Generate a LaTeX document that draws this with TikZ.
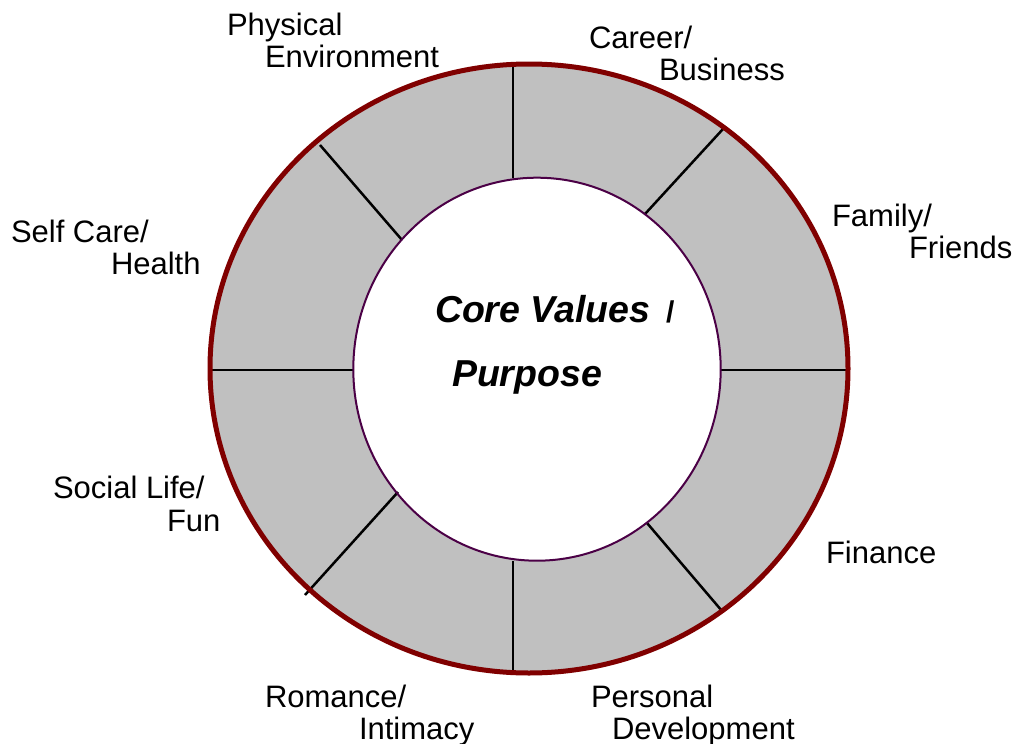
\documentclass[tikz,border=0pt]{standalone}
\usepackage{fontspec}
\setmainfont{Liberation Sans}
\definecolor{ringred}{RGB}{128,0,0}
\definecolor{ringpurple}{RGB}{75,0,70}
\definecolor{ringgray}{RGB}{192,192,192}
\tikzset{
  lbl/.style={anchor=base west, inner sep=0pt, outer sep=0pt, font=\fontsize{31}{35}\selectfont},
  core/.style={anchor=base west, inner sep=0pt, outer sep=0pt, font=\fontsize{37.5}{42}\selectfont\bfseries\itshape},
  divider/.style={draw=black, line width=2.5pt},
}
\begin{document}
\begin{tikzpicture}[x=1pt,y=-1pt]
\useasboundingbox (0,0) rectangle (1018,744);
% ring
\fill[ringgray] (529,368.5) ellipse [x radius=319, y radius=304.5];
\fill[white] (537,369.2) ellipse [x radius=183.7, y radius=191.5];
% divider end points
\coordinate (t1) at (513,65);   \coordinate (t2) at (513,178);
\coordinate (b1) at (513,561);  \coordinate (b2) at (513,673);
\coordinate (l1) at (210,370);  \coordinate (l2) at (353,370);
\coordinate (r1) at (721,370);  \coordinate (r2) at (848,370);
\coordinate (tr1) at (723,129); \coordinate (tr2) at (645,214);
\coordinate (br1) at (722,611); \coordinate (br2) at (647,523);
\coordinate (tl1) at (320,145); \coordinate (tl2) at (402,240);
\coordinate (bl1) at (305,595); \coordinate (bl2) at (398,492);
\draw[divider] (t1) -- (t2);
\draw[divider] (b1) -- (b2);
\draw[divider] (l1) -- (l2);
\draw[divider] (r1) -- (r2);
\draw[divider] (tr1) -- (tr2);
\draw[divider] (br1) -- (br2);
\draw[divider] (tl1) -- (tl2);
\draw[divider] (bl1) -- (bl2);
% outlines
\draw[ringred, line width=5pt] (529,368.5) ellipse [x radius=319, y radius=304.5];
\draw[ringpurple, line width=2pt] (537,369.2) ellipse [x radius=183.7, y radius=191.5];
% labels
\node[lbl] (phys1) at (227,35) {Physical};
\node[lbl] (phys2) at (265,67) {Environment};
\node[lbl] (car1) at (589,48) {Career/};
\node[lbl] (car2) at (659,80) {Business};
\node[lbl] (fam1) at (832,226) {Family/};
\node[lbl] (fam2) at (909,258) {Friends};
\node[lbl] (self1) at (11,242) {Self Care/};
\node[lbl] (self2) at (111,274) {Health};
\node[lbl] (soc1) at (53,498) {Social Life/};
\node[lbl] (soc2) at (167,531) {Fun};
\node[lbl] (fin) at (826,563) {Finance};
\node[lbl] (rom1) at (265,707) {Romance/};
\node[lbl] (rom2) at (359,739) {Intimacy};
\node[lbl] (pers1) at (591,707) {Personal};
\node[lbl] (pers2) at (612,739) {Development};
% centre
\node[core] (cv) at (435,322) {Core Values};
\node[anchor=base west, inner sep=0pt, font=\fontsize{30}{32}\selectfont\bfseries] (slash) at (666,322) {/};
\node[core] (purp) at (452,386) {Purpose};
\end{tikzpicture}
\end{document}
